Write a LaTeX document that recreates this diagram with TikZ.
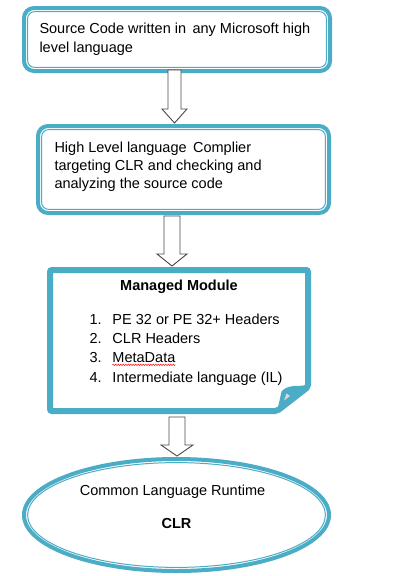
\documentclass[tikz,border=0pt]{standalone}
\usepackage{fontspec}
\setmainfont{Liberation Sans}
\usetikzlibrary{shapes.geometric,decorations.pathmorphing}
\definecolor{tealfive}{HTML}{4BACC6}
\definecolor{arrowgray}{HTML}{4A4A4A}
\begin{document}
\begin{tikzpicture}[x=1pt,y=-1pt,
  txt/.style={font=\fontsize{14.5}{19}\selectfont, inner sep=0, align=left, anchor=north west},
  ctxt/.style={font=\fontsize{14.5}{19}\selectfont, inner sep=0, anchor=base},
  outerline/.style={draw=tealfive, line width=4pt, inner sep=0, outer sep=0pt, fill=white},
  innerline/.style={draw=tealfive, line width=1pt},
  blockarrow/.style={draw=arrowgray, fill=white, line width=0.9pt, line join=miter}]
\fill[white] (0,0) rectangle (405,576);
\useasboundingbox (0,0) rectangle (405,576);

% Box 1
\node[outerline, rounded corners=10pt, minimum width=306pt, minimum height=63pt] (src) at (177,39.5) {};
\draw[innerline, rounded corners=7pt] ([shift={(3.6pt,-3.6pt)}]src.north west) rectangle ([shift={(-3.6pt,3.6pt)}]src.south east);
\node[txt] (srct) at (39.3,22.9) {Source Code written in\, any Microsoft high\\level language};

% Box 2
\node[outerline, rounded corners=10pt, minimum width=291pt, minimum height=87pt] (comp) at (183.5,169.5) {};
\draw[innerline, rounded corners=7pt] ([shift={(3.6pt,-3.6pt)}]comp.north west) rectangle ([shift={(-3.6pt,3.6pt)}]comp.south east);
\node[txt, font=\fontsize{14.5}{18.2}\selectfont] (compt) at (54.3,141.5) {High Level language\, Complier\\targeting CLR and checking and\\analyzing the source code};

% Managed module (folded corner)
\node[minimum width=258pt, minimum height=141pt, inner sep=0] (mm) at (179,340.5) {};
\draw[draw=tealfive, fill=white, line width=6pt, rounded corners=2pt] (50,270) -- (308,270) -- (308,387) -- (277,411) -- (50,411) -- cycle;
\filldraw[draw=tealfive, fill=tealfive, line width=3pt, line join=round] (308,386) .. controls (299,389) and (290,385) .. (283,392) -- (279,409.5) -- cycle;
\fill[gray!30] (290,396) -- (284,400.5) -- (286.5,393.5) -- cycle;
\node[ctxt, font=\fontsize{14.5}{19}\selectfont\bfseries] (mmt) at (179,290.7) {Managed Module};
\node[txt, font=\fontsize{14.5}{19.3}\selectfont] (mml) at (89.3,313.6) {\makebox[23pt][l]{1.}PE 32 or PE 32+ Headers\\\makebox[23pt][l]{2.}CLR Headers\\\makebox[23pt][l]{3.}MetaData\\\makebox[23pt][l]{4.}Intermediate language (IL)};
\draw[red, line width=0.5pt, decorate, decoration={snake, amplitude=0.7pt, segment length=2.5pt}] (112.5,364.8) -- (175.5,364.8);

% CLR ellipse
\node[outerline, ellipse, minimum width=305pt, minimum height=112pt] (clr) at (176.5,515) {};
\draw[innerline] (clr.center) ellipse [x radius=148.9pt, y radius=52.4pt];
\node[ctxt] (clrt) at (172.5,495) {Common Language Runtime};
\node[ctxt, font=\fontsize{14.5}{19}\selectfont\bfseries] (clrb) at (176.5,528.3) {CLR};

% Block arrows
\draw[blockarrow] (168,70) -- (181,70) -- (181,109) -- (187,109) -- (174.5,123) -- (162,109) -- (168,109) -- cycle;
\draw[blockarrow] (164,216) -- (180,216) -- (180,254) -- (187,254) -- (172,266) -- (157,254) -- (164,254) -- cycle;
\draw[blockarrow] (169,417) -- (185,417) -- (185,445) -- (193,445) -- (177,456) -- (161,445) -- (169,445) -- cycle;
\end{tikzpicture}
\end{document}
